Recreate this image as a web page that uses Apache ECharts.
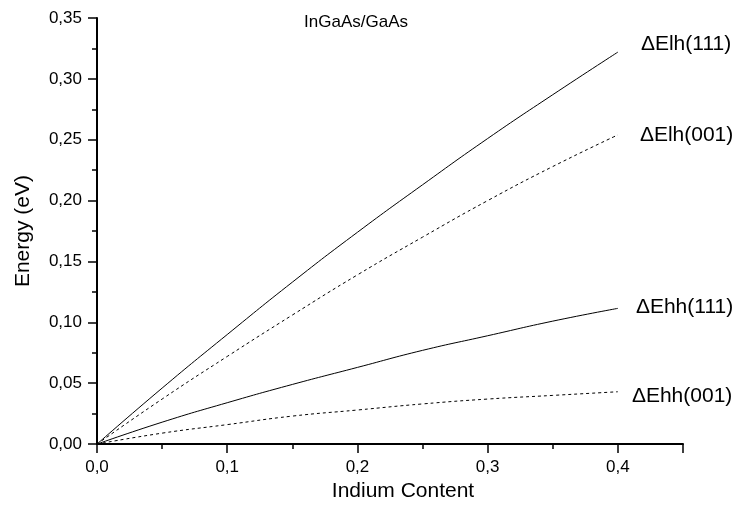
<!DOCTYPE html>
<html>
<head>
<meta charset="utf-8">
<script src="https://cdn.jsdelivr.net/npm/echarts@6/dist/echarts.min.js"></script>
<style>
  html, body { margin: 0; padding: 0; background: #fff; }
  #chart { width: 741px; height: 507px; }
</style>
</head>
<body>
<div id="chart"></div>
<script>
// Indium content (x) and band splitting energies (eV)
const indium = [0, 0.05, 0.1, 0.15, 0.2, 0.25, 0.3, 0.35, 0.4];
const elh111 = [0, 0.046, 0.090, 0.133, 0.174, 0.213, 0.251, 0.287, 0.322];
const elh001 = [0, 0.037, 0.072, 0.106, 0.139, 0.170, 0.200, 0.228, 0.254];
const ehh111 = [0, 0.018, 0.034, 0.049, 0.063, 0.077, 0.089, 0.101, 0.1115];
const ehh001 = [0, 0.009, 0.016, 0.023, 0.028, 0.033, 0.037, 0.040, 0.043];
const seriesNames = ['\u0394Elh(111)', '\u0394Elh(001)', '\u0394Ehh(111)', '\u0394Ehh(001)'];

const FONT = '"Liberation Sans", Arial, sans-serif';
const pairs = ys => indium.map((x, i) => [x, ys[i]]);
const comma = (v, d) => v.toFixed(d).replace('.', ',');

function curve(name, ys, dashed, distance, dy) {
  return {
    name: name,
    type: 'line',
    data: pairs(ys),
    smooth: true,
    symbol: 'none',
    lineStyle: { color: '#000', width: 1, type: dashed ? [3, 3] : 'solid' },
    endLabel: {
      show: true,
      formatter: name,
      distance: distance,
      offset: [0, dy],
      color: '#000',
      fontFamily: FONT,
      fontSize: 21
    },
    animation: false
  };
}

const axisStyle = {
  axisLine: { show: true, onZero: false, lineStyle: { color: '#000', width: 2 } },
  axisTick: { show: true, inside: false, length: 9, lineStyle: { color: '#000', width: 1.5 } },
  minorTick: { show: true, splitNumber: 2, length: 5, lineStyle: { color: '#000', width: 1.5 } },
  splitLine: { show: false }
};

const chart = echarts.init(document.getElementById('chart'));
chart.setOption({
  animation: false,
  title: {
    text: 'InGaAs/GaAs',
    left: 351, top: 9, textAlign: 'center',
    textStyle: { fontFamily: FONT, fontSize: 17, fontWeight: 'normal', color: '#000' }
  },
  grid: { left: 97, right: 58, top: 18, bottom: 62 },
  xAxis: Object.assign({
    type: 'value', min: 0, max: 0.45, interval: 0.1,
    name: 'Indium Content', nameLocation: 'middle', nameGap: 36,
    nameTextStyle: { fontFamily: FONT, fontSize: 21, color: '#000', padding: [0, 0, 0, 26] },
    axisLabel: { fontFamily: FONT, fontSize: 17, color: '#000', margin: 15,
      formatter: v => comma(v, 1), showMaxLabel: false }
  }, axisStyle),
  yAxis: Object.assign({
    type: 'value', min: 0, max: 0.35, interval: 0.05,
    name: 'Energy (eV)', nameLocation: 'middle', nameGap: 63,
    nameTextStyle: { fontFamily: FONT, fontSize: 21, color: '#000' },
    axisLabel: { fontFamily: FONT, fontSize: 17, color: '#000', margin: 15,
      formatter: v => comma(v, 2) }
  }, axisStyle),
  series: [
    curve(seriesNames[0], elh111, false, 23, -8),
    curve(seriesNames[1], elh001, true, 22, 0),
    curve(seriesNames[2], ehh111, false, 18, -1),
    curve(seriesNames[3], ehh001, true, 14, 4)
  ]
});
</script>
</body>
</html>
